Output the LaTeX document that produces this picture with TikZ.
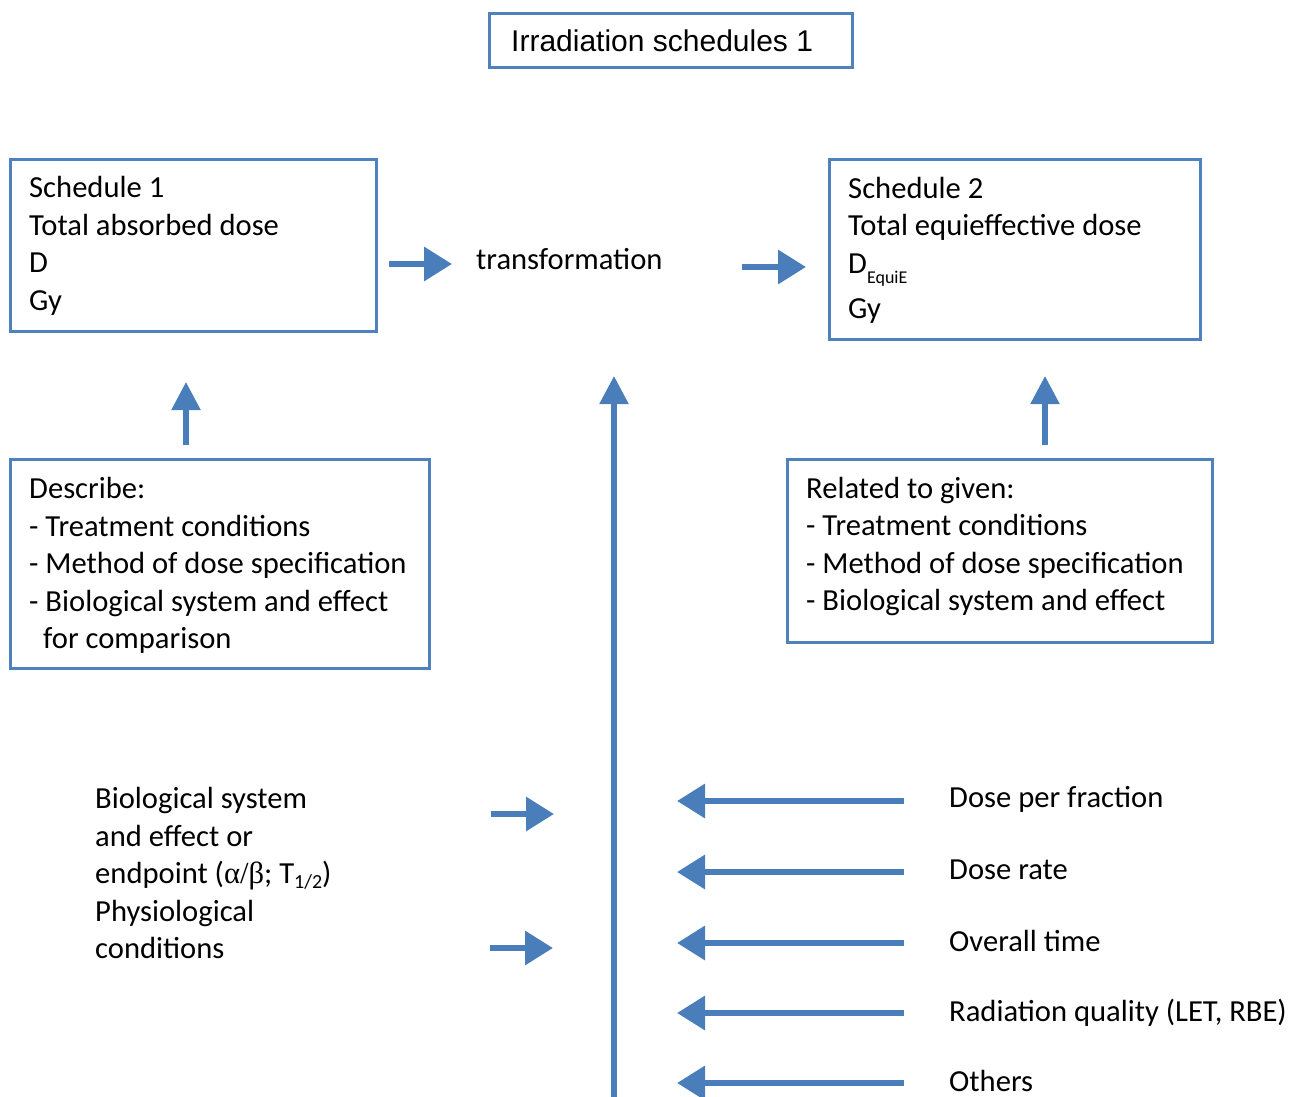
\documentclass[tikz,border=0pt]{standalone}
\usepackage{fontspec}
\setmainfont{Carlito}
\newfontfamily\arialf{Liberation Sans}
\newfontfamily\timesf{Liberation Serif}
\usetikzlibrary{arrows.meta}
\definecolor{boxblue}{HTML}{4F81BD}
\definecolor{arrblue}{HTML}{4A7EBB}
\tikzset{
  txt/.style={font=\fontsize{30.6pt}{37.5pt}\selectfont, inner sep=0pt, align=left, anchor=west},
  frame/.style={draw=boxblue, line width=2.6pt, inner sep=0pt, anchor=north west},
  varr/.style={draw=arrblue, line width=5.3pt, -{Triangle[length=28pt,width=28pt,fill=arrblue]}},
  harr/.style={draw=arrblue, line width=6.3pt, -{Triangle[length=28pt,width=33pt,fill=arrblue]}},
}
\begin{document}
\begin{tikzpicture}[x=1pt,y=-1pt]
\useasboundingbox (0,0) rectangle (1290,1097);
% title
\node[frame, minimum width=363pt, minimum height=54pt] (title) at (488,12) {};
\node[inner sep=0pt, anchor=west, font=\arialf\fontsize{30pt}{36pt}\selectfont] (titlet) at (511,41) {Irradiation schedules 1};
% schedule boxes
\node[frame, minimum width=366pt, minimum height=172pt] (s1) at (9,158) {};
\node[txt] (s1t) at (29,246) {Schedule 1\\Total absorbed dose\\D\\Gy};
\node[frame, minimum width=371pt, minimum height=180pt] (s2) at (828,158) {};
\node[txt] (s2t) at (848,250.5)
  {Schedule 2\\Total equieffective dose\\D\raisebox{-10pt}{\fontsize{18pt}{18pt}\selectfont EquiE}\\[8pt]Gy};
\node[txt] (tr) at (476,259) {transformation};
% describe boxes
\node[frame, minimum width=419pt, minimum height=209pt] (d1) at (9,458) {};
\node[txt] (d1t) at (29,565.5)
  {Describe:\\- Treatment conditions\\- Method of dose specification\\- Biological system and effect\\\hspace*{14pt}for comparison};
\node[frame, minimum width=425pt, minimum height=183pt] (d2) at (786,458) {};
\node[txt] (d2t) at (806,546.5)
  {Related to given:\\- Treatment conditions\\- Method of dose specification\\- Biological system and effect};
% left text block
\node[txt] (bio) at (95,873)
  {Biological system\\and effect or\\endpoint ({\timesf α/β}; T\raisebox{-5pt}{\fontsize{20pt}{20pt}\selectfont 1/2})\\Physiological\\conditions};
% right labels
\node[txt] (f1) at (949,799) {Dose per fraction};
\node[txt] (f2) at (949,870) {Dose rate};
\node[txt] (f3) at (949,941) {Overall time};
\node[txt] (f4) at (949,1013) {Radiation quality (LET, RBE)};
\node[txt] (f5) at (949,1081) {Others};
% arrow coordinates
\coordinate (a1s) at (389,264); \coordinate (a1e) at (452,264);
\coordinate (a2s) at (742,267); \coordinate (a2e) at (806,267);
\coordinate (u1s) at (186,445); \coordinate (u1e) at (186,382);
\coordinate (u2s) at (1045,445); \coordinate (u2e) at (1045,376);
\coordinate (vs) at (614,1100); \coordinate (ve) at (614,376);
\coordinate (b1s) at (491,814); \coordinate (b1e) at (554,814);
\coordinate (b2s) at (490,948); \coordinate (b2e) at (553,948);
\foreach \y/\n in {801/1,872/2,943/3,1013/4,1083/5}{
  \coordinate (l\n s) at (904,\y); \coordinate (l\n e) at (677,\y);
}
\draw[harr] (a1s) -- (a1e);
\draw[harr] (a2s) -- (a2e);
\draw[varr] (u1s) -- (u1e);
\draw[varr] (u2s) -- (u2e);
\draw[varr] (vs) -- (ve);
\draw[harr] (b1s) -- (b1e);
\draw[harr] (b2s) -- (b2e);
\foreach \n in {1,...,5}{ \draw[harr] (l\n s) -- (l\n e); }
\end{tikzpicture}
\end{document}
